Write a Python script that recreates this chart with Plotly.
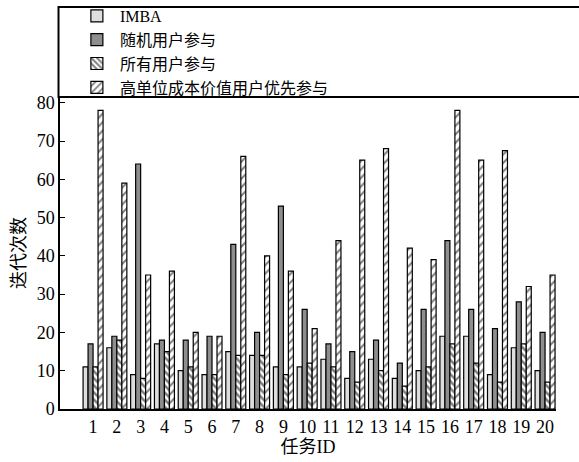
import plotly.graph_objects as go

tasks = [str(i) for i in range(1, 21)]
imba = [11, 16, 9, 17, 10, 9, 15, 14, 11, 11, 13, 8, 13, 8, 10, 19, 19, 9, 16, 10]
random_users = [17, 19, 64, 18, 18, 19, 43, 20, 53, 26, 17, 15, 18, 12, 26, 44, 26, 21, 28, 20]
all_users = [11, 18, 8, 15, 11, 9, 14, 14, 9, 12, 11, 7, 10, 6, 11, 17, 12, 7, 17, 7]
high_value = [78, 59, 35, 36, 20, 19, 66, 40, 36, 21, 44, 65, 68, 42, 39, 78, 65, 67.5, 32, 35]

names = ["IMBA", "随机用户参与", "所有用户参与", "高单位成本价值用户优先参与"]
font_fam = "Liberation Serif, Times New Roman, Noto Sans CJK SC, serif"

fig = go.Figure()
fig.add_trace(go.Bar(x=tasks, y=imba, name=names[0],
                     marker=dict(color="#dedede", line=dict(color="black", width=1.2))))
fig.add_trace(go.Bar(x=tasks, y=random_users, name=names[1],
                     marker=dict(color="#8e8e8e", line=dict(color="black", width=1.2))))
fig.add_trace(go.Bar(x=tasks, y=all_users, name=names[2],
                     marker=dict(color="white", line=dict(color="black", width=1.2),
                                 pattern=dict(shape="\\", size=5, solidity=0.5,
                                              fgcolor="black", bgcolor="white"))))
fig.add_trace(go.Bar(x=tasks, y=high_value, name=names[3],
                     marker=dict(color="white", line=dict(color="black", width=1.2),
                                 pattern=dict(shape="/", size=6, solidity=0.35,
                                              fgcolor="black", bgcolor="white"))))

W, H = 579, 462
l, r, t, b = 60, 23, 97, 53
ph = H - t - b

fig.update_layout(
    width=W, height=H,
    margin=dict(l=l, r=r, t=t, b=b, autoexpand=False),
    paper_bgcolor="white", plot_bgcolor="white",
    barmode="group", bargap=0.16, bargroupgap=0,
    font=dict(family=font_fam, size=18, color="black"),
    showlegend=True,
    legend=dict(x=0.028, y=(H - b + 1) / ph, xanchor="left", yanchor="top",
                bgcolor="rgba(0,0,0,0)", borderwidth=0, itemwidth=36,
                font=dict(family=font_fam, size=16), tracegroupgap=0),
    xaxis=dict(type="category", range=[-1.39, 19.46], ticks="", showline=True,
               linecolor="black", linewidth=2, mirror=False, showgrid=False,
               tickfont=dict(size=18),
               title=dict(text="任务ID", font=dict(size=18), standoff=5)),
    yaxis=dict(range=[0, 81.5], tickvals=[0, 10, 20, 30, 40, 50, 60, 70, 80],
               ticks="inside", ticklen=5, tickcolor="black", showline=True,
               linecolor="black", linewidth=1.5, showgrid=False, zeroline=False,
               tickfont=dict(size=18),
               title=dict(text="迭代次数", font=dict(size=18), standoff=6)),
    shapes=[dict(type="rect", xref="paper", yref="paper",
                 x0=-0.003, x1=1.2, y0=1.0, y1=(H - b - 7) / ph,
                 line=dict(color="black", width=2), fillcolor="rgba(0,0,0,0)",
                 layer="above")],
)

fig.write_html("out.html")
